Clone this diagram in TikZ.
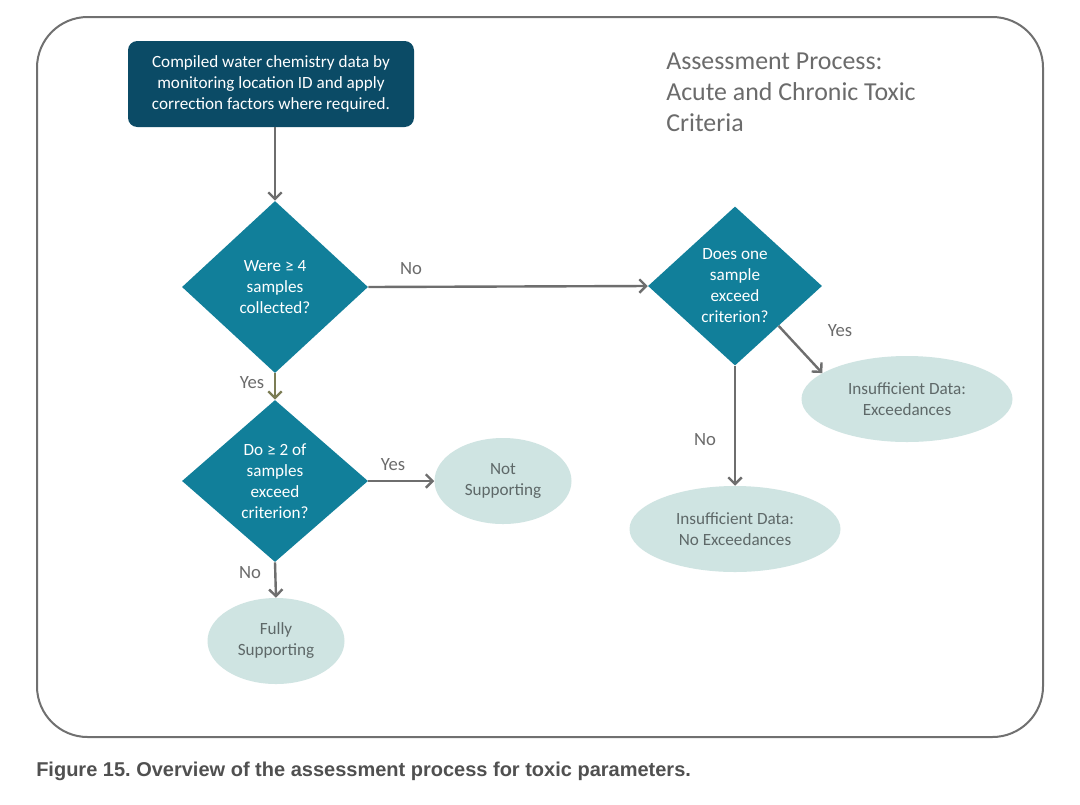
\documentclass[tikz,border=0pt]{standalone}
\usepackage{fontspec}
\setmainfont{Carlito}
\newfontfamily\capfont{Liberation Sans}
\usetikzlibrary{shapes.geometric,arrows.meta}
\definecolor{darkteal}{HTML}{0B4B66}
\definecolor{tealfill}{HTML}{117F9A}
\definecolor{lightteal}{HTML}{CFE4E2}
\definecolor{arrowgray}{HTML}{6E6E6E}
\definecolor{olivearrow}{HTML}{7C7D55}
\definecolor{textgray}{HTML}{5E6868}
\definecolor{titlegray}{HTML}{6B6B6B}
\definecolor{framegray}{HTML}{707070}
\definecolor{capgray}{HTML}{505050}
\frenchspacing
\begin{document}
\begin{tikzpicture}[x=0.75pt,y=-0.75pt,
  every node/.style={font=\fontsize{12.85}{15.75}\selectfont},
  startbox/.style={rectangle, rounded corners=7pt, fill=darkteal, text=white, minimum width=214.5pt, minimum height=64.5pt, align=center, inner sep=0pt},
  decision/.style={diamond, fill=tealfill, text=white, minimum width=139.5pt, minimum height=129pt, inner sep=0pt, align=center},
  smalldecision/.style={decision, minimum width=130.5pt, minimum height=119.25pt},
  outcome/.style={ellipse, fill=lightteal, text=textgray, minimum width=102.75pt, minimum height=64.5pt, inner sep=0pt, align=center},
  wideoutcome/.style={outcome, minimum width=158.25pt},
  flow/.style={draw=arrowgray, line width=1.8pt, -{Straight Barb[length=5pt,width=10pt]}},
  lbl/.style={text=titlegray, font=\fontsize{14}{16}\selectfont, inner sep=0pt}
]
\useasboundingbox (0,0) rectangle (1080,804);
\fill[white] (0,0) rectangle (1080,804);
\draw[framegray, line width=1.5pt, rounded corners=38pt] (37,17) rectangle (1043,737);

\node[startbox] (box) at (271,84) {Compiled water chemistry data by\\monitoring location ID and apply\\correction factors where required.};
\node[anchor=west, align=left, text=titlegray, font=\fontsize{19.4}{23.25}\selectfont, inner sep=0pt] (title) at (666,92) {Assessment Process:\\Acute and Chronic Toxic\\Criteria};

\node[decision] (d1) at (275,287) {Were ≥ 4\\samples\\collected?};
\node[decision, minimum height=121.5pt] (d3) at (275,481) {Do ≥ 2 of\\samples\\exceed\\criterion?};
\node[smalldecision] (d2) at (735,286) {Does one\\sample\\exceed\\criterion?};

\node[outcome] (ns) at (503,481) {Not\\Supporting};
\node[outcome] (fs) at (276,641) {Fully\\Supporting};
\node[wideoutcome] (ie) at (907,399) {Insufficient Data:\\Exceedances};
\node[wideoutcome] (ine) at (735,529) {Insufficient Data:\\No Exceedances};

\draw[flow] (box.south -| d1.north) -- (d1.north);
\draw[flow] (d1.east) -- (d2.west);
\draw[flow, draw=olivearrow] (d1.south) -- (d3.north);
\draw[flow] (d3.east) -- (ns.west);
\draw[flow] (d3.south) -- (fs.north);
\draw[flow] (d2.south) -- (ine.north);
\draw[flow] (d2.south east) -- (ie.163);

\node[lbl] (lno1) at (411,269) {No};
\node[lbl] (lyes1) at (252,383) {Yes};
\node[lbl] (lyes2) at (393,465) {Yes};
\node[lbl] (lno2) at (250,573) {No};
\node[lbl] (lno3) at (705,440) {No};
\node[lbl] (lyes3) at (840,331) {Yes};

\node[anchor=west, inner sep=0pt, text=capgray, font=\capfont\bfseries\fontsize{15}{16}\selectfont] (cap) at (36,771) {Figure 15. Overview of the assessment process for toxic parameters.};
\end{tikzpicture}
\end{document}
